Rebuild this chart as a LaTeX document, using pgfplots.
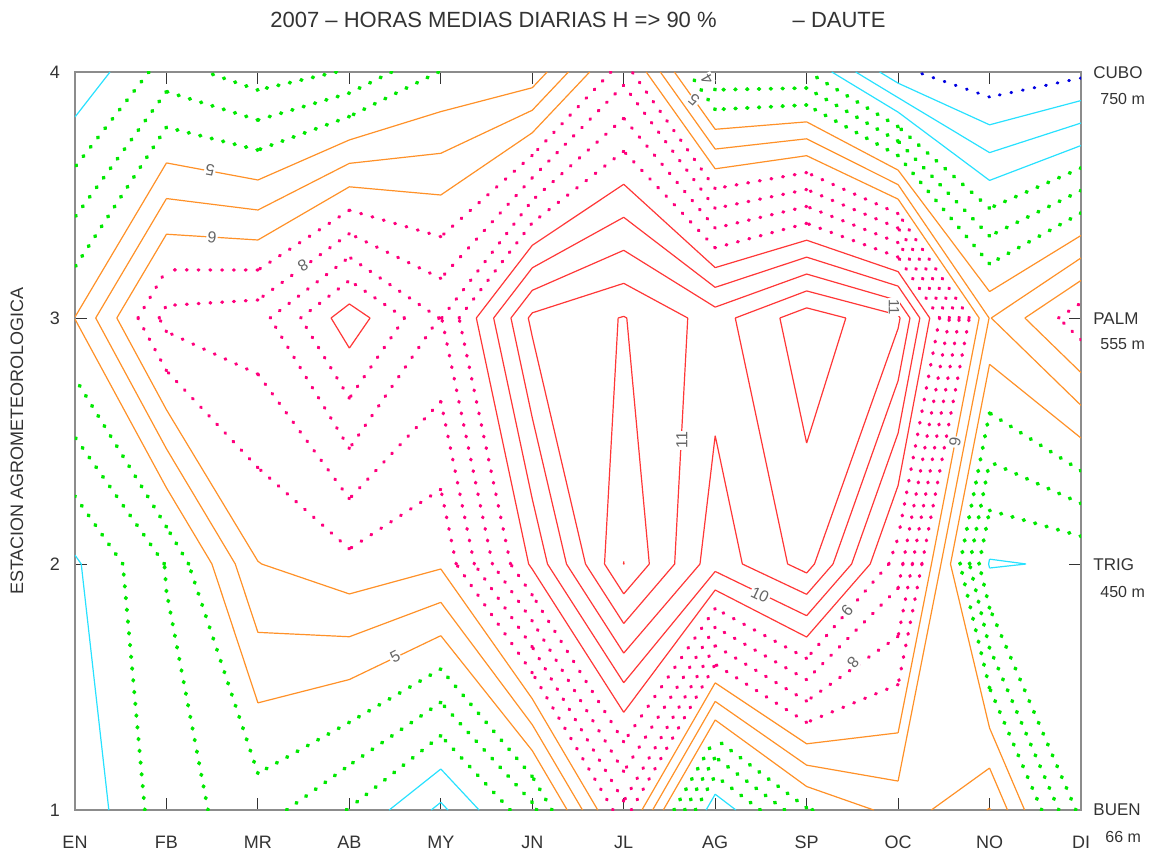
\documentclass[border=0pt]{standalone}
\usepackage{fontspec}
\setmainfont{Liberation Sans}
\usepackage{pgfplots}
\usepackage{pgfplotstable}
\pgfplotsset{compat=1.18}

\definecolor{cBlue}{RGB}{0,0,225}
\definecolor{cCyan}{RGB}{40,225,255}
\definecolor{cGreen}{RGB}{0,232,0}
\definecolor{cOrange}{RGB}{255,145,40}
\definecolor{cMag}{RGB}{255,0,125}
\definecolor{cRed}{RGB}{255,55,55}

% Grid of the chart, in contour-level units (isoline k is drawn where the
% interpolated value equals k); rows are the stations, columns the months.
\pgfplotstableread{
st EN FB MR AB MY JN JL AG SP OC NO DI
4 3.10 5.45 4.40 5.10 7.05 7.30 11.60 5.10 5.05 1.23 0.10 0.73
3 8.02 12.35 12.60 15.60 12.95 18.23 19.05 17.55 19.60 18.20 8.95 11.67
2 3.85 6.05 9.97 10.70 10.15 15.20 20.01 16.40 18.42 13.50 3.90 4.15
1 3.06 5.60 6.48 4.95 2.77 5.71 11.70 3.15 6.90 8.40 10.05 4.70
}\gridtable

\foreach \rr in {0,1,2,3}{%
  \foreach \cc in {1,...,12}{%
    \pgfplotstablegetelem{\rr}{[index]\cc}\of\gridtable
    \pgfmathtruncatemacro\yy{4-\rr}%
    \expandafter\xdef\csname cmz-\cc-\yy\endcsname{\pgfplotsretval}%
  }%
}

\ExplSyntaxOn
\fp_new:N \l_cm_a_fp
\fp_new:N \l_cm_b_fp
\fp_new:N \l_cm_c_fp
\fp_new:N \l_cm_d_fp
\fp_new:N \l_cm_m_fp
\tl_new:N \l_cm_B_tl
\tl_new:N \l_cm_R_tl
\tl_new:N \l_cm_T_tl
\tl_new:N \l_cm_L_tl
\tl_new:N \l_cm_pts_tl
\int_new:N \l_cm_n_int
\tl_new:N \g_cm_cmds_tl

\cs_new_protected:Npn \cm_cell:nnn #1#2#3
  {
    \fp_set:Nn \l_cm_a_fp { \use:c { cmz-#1-#2 } - #3 }
    \fp_set:Nn \l_cm_b_fp { \use:c { cmz-\int_eval:n{#1+1}-#2 } - #3 }
    \fp_set:Nn \l_cm_c_fp { \use:c { cmz-\int_eval:n{#1+1}-\int_eval:n{#2+1} } - #3 }
    \fp_set:Nn \l_cm_d_fp { \use:c { cmz-#1-\int_eval:n{#2+1} } - #3 }
    \tl_clear:N \l_cm_B_tl
    \tl_clear:N \l_cm_R_tl
    \tl_clear:N \l_cm_T_tl
    \tl_clear:N \l_cm_L_tl
    \int_zero:N \l_cm_n_int
    \fp_compare:nT { \l_cm_a_fp * \l_cm_b_fp < 0 }
      {
        \tl_set:Nx \l_cm_B_tl
          { ( \fp_eval:n { round( #1 + \l_cm_a_fp / ( \l_cm_a_fp - \l_cm_b_fp ) , 4 ) } , #2 ) }
        \int_incr:N \l_cm_n_int
      }
    \fp_compare:nT { \l_cm_b_fp * \l_cm_c_fp < 0 }
      {
        \tl_set:Nx \l_cm_R_tl
          { ( \int_eval:n {#1+1} , \fp_eval:n { round( #2 + \l_cm_b_fp / ( \l_cm_b_fp - \l_cm_c_fp ) , 4 ) } ) }
        \int_incr:N \l_cm_n_int
      }
    \fp_compare:nT { \l_cm_d_fp * \l_cm_c_fp < 0 }
      {
        \tl_set:Nx \l_cm_T_tl
          { ( \fp_eval:n { round( #1 + \l_cm_d_fp / ( \l_cm_d_fp - \l_cm_c_fp ) , 4 ) } , \int_eval:n {#2+1} ) }
        \int_incr:N \l_cm_n_int
      }
    \fp_compare:nT { \l_cm_a_fp * \l_cm_d_fp < 0 }
      {
        \tl_set:Nx \l_cm_L_tl
          { ( #1 , \fp_eval:n { round( #2 + \l_cm_a_fp / ( \l_cm_a_fp - \l_cm_d_fp ) , 4 ) } ) }
        \int_incr:N \l_cm_n_int
      }
    \int_compare:nNnTF \l_cm_n_int = 2
      {
        \tl_put_right:Nx \l_cm_pts_tl
          { \l_cm_B_tl \l_cm_R_tl \l_cm_T_tl \l_cm_L_tl (nan,nan) }
      }
      {
        \int_compare:nNnT \l_cm_n_int = 4
          {
            \fp_set:Nn \l_cm_m_fp
              { ( \l_cm_a_fp + \l_cm_b_fp + \l_cm_c_fp + \l_cm_d_fp ) / 4 }
            \fp_compare:nTF { \l_cm_a_fp * \l_cm_m_fp > 0 }
              {
                \tl_put_right:Nx \l_cm_pts_tl
                  { \l_cm_B_tl \l_cm_R_tl (nan,nan) \l_cm_L_tl \l_cm_T_tl (nan,nan) }
              }
              {
                \tl_put_right:Nx \l_cm_pts_tl
                  { \l_cm_B_tl \l_cm_L_tl (nan,nan) \l_cm_R_tl \l_cm_T_tl (nan,nan) }
              }
          }
      }
  }

\int_step_inline:nnn {1} {20}
  {
    \tl_clear:N \l_cm_pts_tl
    \int_step_inline:nnn {1} {11}
      {
        \int_step_inline:nnn {1} {3}
          { \cm_cell:nnn {##1} {####1} {#1} }
      }
    \tl_if_empty:NF \l_cm_pts_tl
      {
        \tl_gput_right:Nx \g_cm_cmds_tl
          { \exp_not:N \addplot [ clev#1 ] ~ coordinates ~ { \l_cm_pts_tl } ; }
      }
  }
\cs_new:Npn \contourlines { \tl_use:N \g_cm_cmds_tl }
\ExplSyntaxOff

\pgfplotsset{
  cbase/.style={no markers, forget plot, unbounded coords=jump, line join=round},
  cdot/.style={cbase, line cap=round, dash pattern=on 0.4pt off 5.5pt},
  clev1/.style={cdot, cBlue, line width=1.5pt},
  clev2/.style={cbase, cCyan, line width=0.6pt},
  clev3/.style={clev2}, clev4/.style={clev2},
  clev5/.style={cdot, cGreen, line width=1.95pt},
  clev6/.style={clev5}, clev7/.style={clev5},
  clev8/.style={cbase, cOrange, line width=0.6pt},
  clev9/.style={clev8}, clev10/.style={clev8},
  clev11/.style={cdot, cMag, line width=1.65pt},
  clev12/.style={clev11}, clev13/.style={clev11}, clev14/.style={clev11},
  clev15/.style={cbase, cRed, line width=0.6pt},
  clev16/.style={clev15}, clev17/.style={clev15}, clev18/.style={clev15},
  clev19/.style={clev15}, clev20/.style={clev15},
}
\tikzset{clab/.style={font=\fontsize{8}{9}\selectfont, text=black!60, fill=white, inner sep=0.6pt}}

\begin{document}
\begin{tikzpicture}
\useasboundingbox (-37.5pt,-21pt) rectangle (540pt,405pt);
\begin{axis}[
  at={(0pt,0pt)}, anchor=south west,
  scale only axis, width=503pt, height=369pt,
  xmin=1, xmax=12, ymin=1, ymax=4,
  xtick={1,...,12},
  xticklabels={EN,FB,MR,AB,MY,JN,JL,AG,SP,OC,NO,DI},
  ytick={1,2,3,4}, yticklabels={1,2,3,4},
  tick align=inside, major tick length=6pt,
  axis line style={draw=black!45, line width=1pt},
  every tick/.style={black!80, line width=0.5pt},
  xticklabel style={anchor=center, yshift=-16pt, font=\fontsize{9}{10}\selectfont, text=black!80},
  yticklabel style={anchor=center, xshift=-10pt, font=\fontsize{9}{10}\selectfont, text=black!80},
]
\contourlines
\node[clab, rotate=170] at (axis cs:2.476,3.602) {5};
\node[clab, rotate=173] at (axis cs:2.498,3.329) {6};
\node[clab, rotate=210] at (axis cs:3.493,3.215) {8};
\node[clab, rotate=27]  at (axis cs:4.499,1.622) {5};
\node[clab, rotate=140] at (axis cs:7.769,3.886) {5};
\node[clab, rotate=120] at (axis cs:7.911,3.970) {4};
\node[clab, rotate=90]  at (axis cs:7.637,2.504) {11};
\node[clab, rotate=-25] at (axis cs:8.490,1.874) {10};
\node[clab, rotate=-90, font=\fontsize{7.5}{8}\selectfont] at (axis cs:9.955,3.045) {11};
\node[clab, rotate=-100] at (axis cs:10.623,2.496) {6};
\node[clab, rotate=229] at (axis cs:9.442,1.813) {9};
\node[clab, rotate=229] at (axis cs:9.507,1.598) {8};
\end{axis}
\node[font=\fontsize{11}{12}\selectfont, text=black!80] at (251.5pt,395pt)
  {2007 – HORAS MEDIAS DIARIAS H => 90 \%\hspace{38pt}– DAUTE};
\node[font=\fontsize{9}{10}\selectfont, text=black!80, rotate=90] at (-29pt,184.5pt)
  {ESTACION AGROMETEOROLOGICA};
\begin{scope}[every node/.style={anchor=west, inner sep=0pt, text=black!80}]
\node[font=\fontsize{8.5}{10}\selectfont] at (509pt,368.5pt) {CUBO};
\node[font=\fontsize{8}{9}\selectfont] at (512.5pt,355.5pt) {750 m};
\node[font=\fontsize{8.5}{10}\selectfont] at (509pt,245.5pt) {PALM};
\node[font=\fontsize{8}{9}\selectfont] at (512.5pt,233pt) {555 m};
\node[font=\fontsize{8.5}{10}\selectfont] at (509pt,122.5pt) {TRIG};
\node[font=\fontsize{8}{9}\selectfont] at (512.5pt,109pt) {450 m};
\node[font=\fontsize{8.5}{10}\selectfont] at (509pt,0pt) {BUEN};
\node[font=\fontsize{8}{9}\selectfont] at (515pt,-13.5pt) {66 m};
\end{scope}
\end{tikzpicture}
\end{document}
